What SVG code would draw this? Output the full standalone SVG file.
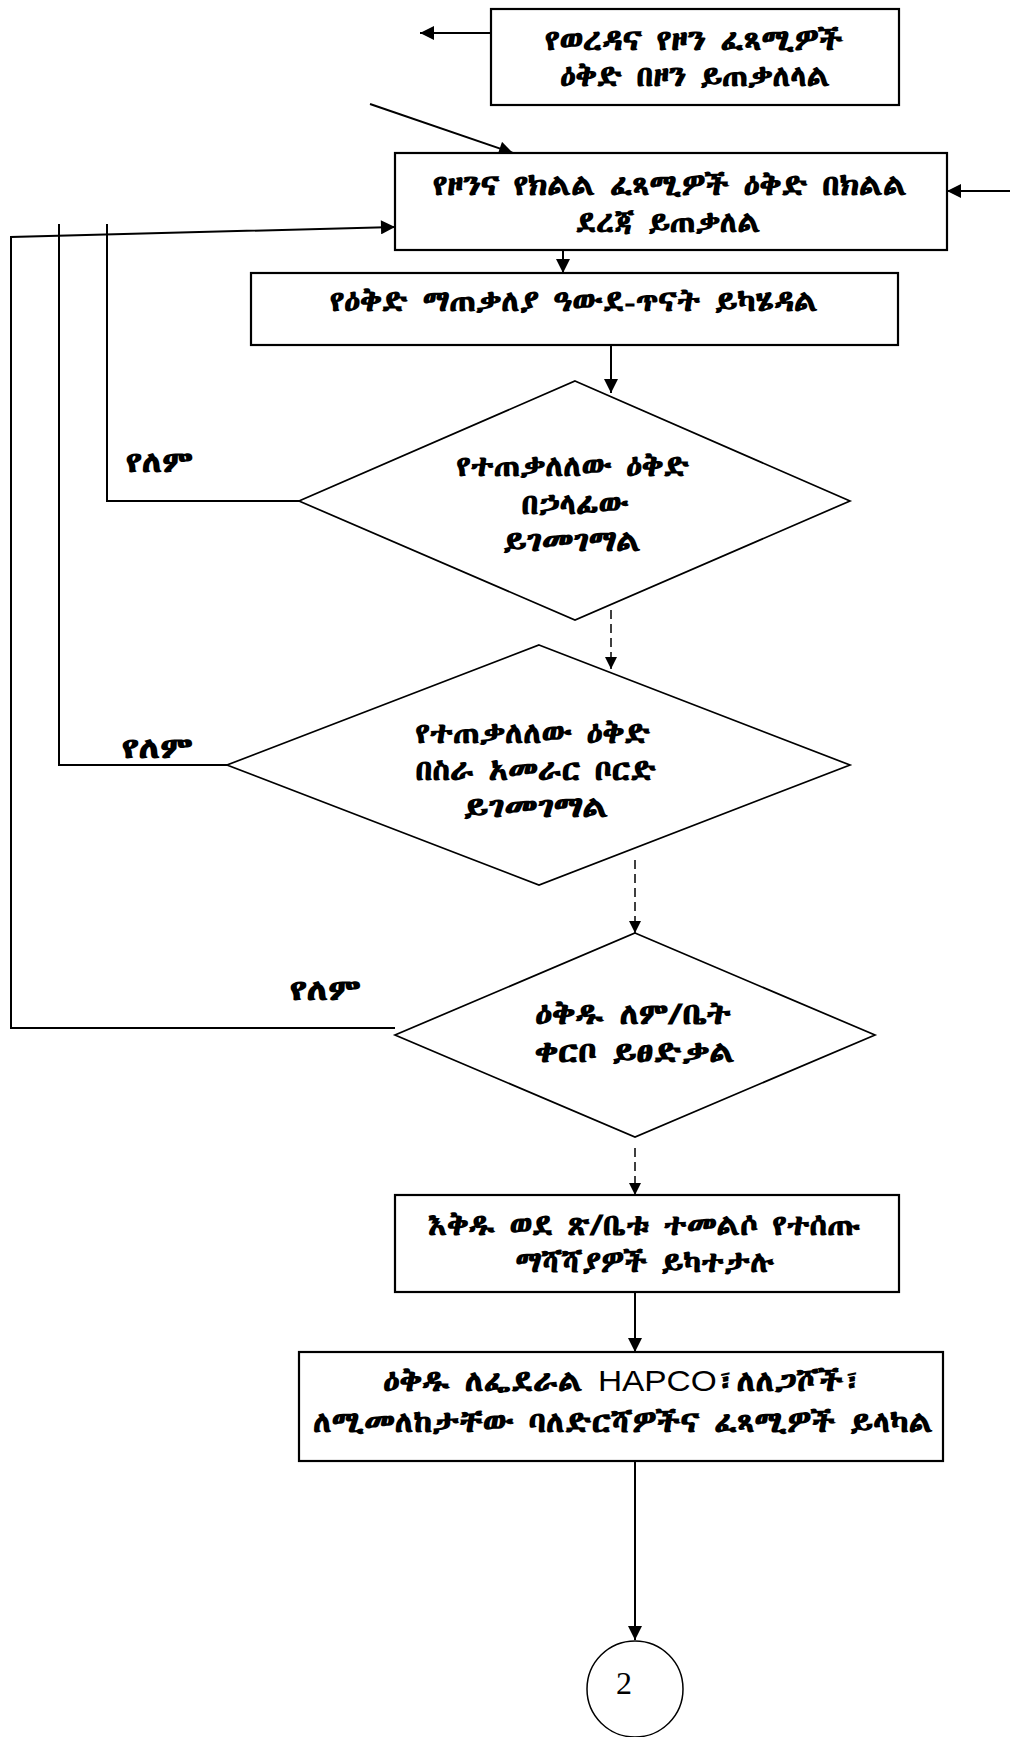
<svg xmlns="http://www.w3.org/2000/svg" width="1010" height="1737" viewBox="0 0 1010 1737">
  <style>
    .box { fill: #ffffff; stroke: #000000; stroke-width: 2.2; }
    .dia { fill: #ffffff; stroke: #000000; stroke-width: 1.7; }
    .ring { fill: #ffffff; stroke: #000000; stroke-width: 1.5; }
    .wire { fill: none; stroke: #000000; stroke-width: 2; }
    .dash { fill: none; stroke: #000000; stroke-width: 1.5; stroke-dasharray: 9 5; }
    .t { font-family: "Abyssinica SIL", "Noto Serif Ethiopic", "Noto Sans Ethiopic", "FreeSerif", "DejaVu Sans", sans-serif; font-size: 29px; font-weight: bold; fill: #000000; text-anchor: middle; }
    .lbl { font-family: "Abyssinica SIL", "Noto Serif Ethiopic", "Noto Sans Ethiopic", "FreeSerif", "DejaVu Sans", sans-serif; font-size: 29px; font-weight: bold; fill: #000000; }
    .lat { font-family: "Liberation Sans", Arial, sans-serif; font-weight: normal; }
    .num { font-family: "Liberation Serif", "Times New Roman", serif; font-size: 32px; fill: #000000; text-anchor: middle; }
  </style>
  <defs>
    <marker id="arrow" viewBox="0 0 10 10" refX="10" refY="5" markerUnits="userSpaceOnUse" markerWidth="15" markerHeight="14" orient="auto">
      <path d="M0,0 L10,5 L0,10 z" fill="#000000"/>
    </marker>
    <marker id="arrowSmall" viewBox="0 0 10 10" refX="10" refY="5" markerUnits="userSpaceOnUse" markerWidth="13" markerHeight="12" orient="auto">
      <path d="M0,0 L10,5 L0,10 z" fill="#000000"/>
    </marker>
  </defs>

  <rect width="1010" height="1737" fill="#ffffff"/>

  <!-- connectors -->
  <g id="connectors">
    <line class="wire" x1="491" y1="33" x2="420" y2="33" marker-end="url(#arrow)"/>
    <line class="wire" x1="370" y1="104" x2="513" y2="153" marker-end="url(#arrow)"/>
    <line class="wire" x1="1010" y1="191" x2="947" y2="191" marker-end="url(#arrow)"/>
    <line class="wire" x1="563" y1="225" x2="563" y2="273" marker-end="url(#arrow)"/>
    <line class="wire" x1="611" y1="345" x2="611" y2="393" marker-end="url(#arrow)"/>
    <line class="dash" x1="611" y1="610" x2="611" y2="669" marker-end="url(#arrowSmall)"/>
    <line class="dash" x1="635" y1="860" x2="635" y2="933" marker-end="url(#arrowSmall)"/>
    <line class="dash" x1="635" y1="1148" x2="635" y2="1195" marker-end="url(#arrowSmall)"/>
    <line class="wire" x1="635" y1="1292" x2="635" y2="1352" marker-end="url(#arrow)"/>
    <line class="wire" x1="635" y1="1461" x2="635" y2="1640" marker-end="url(#arrow)"/>
    <!-- "no" returns back to the regional summary box -->
    <polyline class="wire" points="301,501 107,501 107,224"/>
    <polyline class="wire" points="227,765 59,765 59,224"/>
    <path class="wire" d="M395,1028 L11,1028 L11,237 L395,227" marker-end="url(#arrow)"/>
  </g>

  <g id="woreda-zone">
    <rect class="box" x="491" y="9" width="408" height="96"/>
    <text class="t" x="694" y="50" textLength="298" lengthAdjust="spacingAndGlyphs">የወረዳና የዞን ፈጻሚዎች</text>
    <text class="t" x="695" y="86" textLength="270" lengthAdjust="spacingAndGlyphs">ዕቅድ በዞን ይጠቃለላል</text>
  </g>

  <g id="zone-region">
    <rect class="box" x="395" y="153" width="552" height="97"/>
    <text class="t" x="670" y="195" textLength="474" lengthAdjust="spacingAndGlyphs">የዞንና የክልል ፈጻሚዎች ዕቅድ በክልል</text>
    <text class="t" x="668" y="232" textLength="185" lengthAdjust="spacingAndGlyphs">ደረጃ ይጠቃለል</text>
  </g>

  <g id="workshop">
    <rect class="box" x="251" y="273" width="647" height="72"/>
    <text class="t" x="574" y="311" textLength="488" lengthAdjust="spacingAndGlyphs">የዕቅድ ማጠቃለያ ዓውደ-ጥናት ይካሄዳል</text>
  </g>

  <g id="review-head">
    <polygon class="dia" points="575,381 850,501 575,620 299,501"/>
    <text class="t" x="573" y="476" textLength="233" lengthAdjust="spacingAndGlyphs">የተጠቃለለው ዕቅድ</text>
    <text class="t" x="575" y="514" textLength="107" lengthAdjust="spacingAndGlyphs">በኃላፊው</text>
    <text class="t" x="572" y="551" textLength="138" lengthAdjust="spacingAndGlyphs">ይገመገማል</text>
  </g>

  <g id="review-board">
    <polygon class="dia" points="539,645 850,765 539,885 227,765"/>
    <text class="t" x="533" y="743" textLength="235" lengthAdjust="spacingAndGlyphs">የተጠቃለለው ዕቅድ</text>
    <text class="t" x="536" y="780" textLength="241" lengthAdjust="spacingAndGlyphs">በስራ አመራር ቦርድ</text>
    <text class="t" x="536" y="817" textLength="145" lengthAdjust="spacingAndGlyphs">ይገመገማል</text>
  </g>

  <g id="council-approval">
    <polygon class="dia" points="635,933 875,1035 635,1137 395,1035"/>
    <text class="t" x="633" y="1024" textLength="196" lengthAdjust="spacingAndGlyphs">ዕቅዱ ለም/ቤት</text>
    <text class="t" x="635" y="1062" textLength="200" lengthAdjust="spacingAndGlyphs">ቀርቦ ይፀድቃል</text>
  </g>

  <g id="no-labels">
    <text class="lbl" x="126" y="472" textLength="67" lengthAdjust="spacingAndGlyphs">የለም</text>
    <text class="lbl" x="122" y="758" textLength="71" lengthAdjust="spacingAndGlyphs">የለም</text>
    <text class="lbl" x="290" y="1000" textLength="71" lengthAdjust="spacingAndGlyphs">የለም</text>
  </g>

  <g id="revisions">
    <rect class="box" x="395" y="1195" width="504" height="97"/>
    <text class="t" x="644" y="1235" textLength="432" lengthAdjust="spacingAndGlyphs">እቅዱ ወደ ጽ/ቤቱ ተመልሶ የተሰጡ</text>
    <text class="t" x="645" y="1272" textLength="259" lengthAdjust="spacingAndGlyphs">ማሻሻያዎች ይካተታሉ</text>
  </g>

  <g id="distribution">
    <rect class="box" x="299" y="1352" width="644" height="109"/>
    <text class="t" x="623" y="1391" textLength="480" lengthAdjust="spacingAndGlyphs">ዕቅዱ ለፌደራል <tspan class="lat">HAPCO</tspan>፣ለለጋሾች፣</text>
    <text class="t" x="623" y="1432" textLength="620" lengthAdjust="spacingAndGlyphs">ለሚመለከታቸው ባለድርሻዎችና ፈጻሚዎች ይላካል</text>
  </g>

  <g id="connector-2">
    <circle class="ring" cx="635" cy="1689" r="48"/>
    <text class="num" x="624" y="1694">2</text>
  </g>
</svg>
